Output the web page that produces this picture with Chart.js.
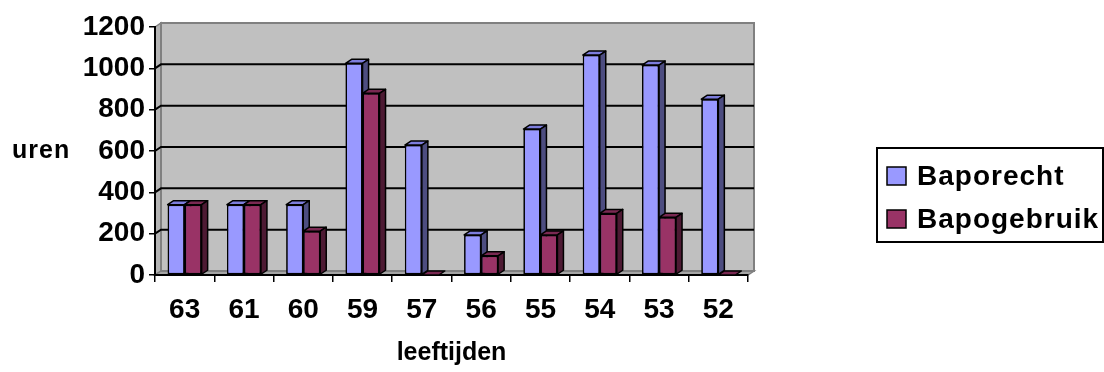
<!DOCTYPE html>
<html>
<head>
<meta charset="utf-8">
<script src="https://cdn.jsdelivr.net/npm/chart.js@4/dist/chart.umd.min.js"></script>
<style>
  html, body { margin: 0; padding: 0; background: #fff; }
  #wrap { width: 1104px; height: 372px; position: relative; }
</style>
</head>
<body>
<div id="wrap"><canvas id="c"></canvas></div>
<script>
// Ages and hours per age
const categories = ['63', '61', '60', '59', '57', '56', '55', '54', '53', '52'];
const baporecht = [340, 340, 340, 1024, 629, 194, 706, 1064, 1016, 851];
const bapogebruik = [340, 340, 212, 879, 0, 93, 194, 298, 279, 0];
const yTicks = [0, 200, 400, 600, 800, 1000, 1200];

const seriesNames = ['Baporecht', 'Bapogebruik'];
const frontColors = ['#9999ff', '#993366'];
const topColors = ['#7d7ddc', '#7a2952'];
const sideColors = ['#4d4d80', '#4d1a33'];

const DX = 6, DY = -4;   // depth of the 3D extrusion
const FONT = 'Liberation Sans, Arial, sans-serif';

function poly(ctx, pts) {
  ctx.beginPath();
  ctx.moveTo(pts[0][0], pts[0][1]);
  for (let i = 1; i < pts.length; i++) ctx.lineTo(pts[i][0], pts[i][1]);
  ctx.closePath();
}

// Walls, floor and gridlines behind the bars
const walls = {
  id: 'walls',
  beforeDraw(chart) {
    const { ctx, chartArea: a, scales: { y } } = chart;
    ctx.save();
    ctx.fillStyle = '#fff';
    ctx.fillRect(0, 0, chart.width, chart.height);
    ctx.lineJoin = 'miter';
    // left side wall
    poly(ctx, [[a.left, a.top], [a.left + DX, a.top + DY], [a.left + DX, a.bottom + DY], [a.left, a.bottom]]);
    ctx.fillStyle = '#b4b4b4'; ctx.fill();
    ctx.strokeStyle = '#808080'; ctx.lineWidth = 1.5; ctx.stroke();
    // floor
    poly(ctx, [[a.left, a.bottom], [a.left + DX, a.bottom + DY], [a.right + DX, a.bottom + DY], [a.right, a.bottom]]);
    ctx.fillStyle = '#a6a6a6'; ctx.fill();
    ctx.strokeStyle = '#808080'; ctx.stroke();
    // back wall
    ctx.fillStyle = '#c0c0c0';
    ctx.fillRect(a.left + DX, a.top + DY, a.right - a.left, a.bottom - a.top);
    ctx.strokeStyle = '#808080'; ctx.lineWidth = 2;
    ctx.strokeRect(a.left + DX, a.top + DY, a.right - a.left, a.bottom - a.top);
    // gridlines on side and back wall
    ctx.strokeStyle = '#000'; ctx.lineWidth = 2;
    y.ticks.forEach(t => {
      if (t.value <= y.min || t.value >= y.max) return;
      const py = y.getPixelForValue(t.value);
      ctx.beginPath();
      ctx.moveTo(a.left, py);
      ctx.lineTo(a.left + DX, py + DY);
      ctx.lineTo(a.right + DX, py + DY);
      ctx.stroke();
    });
    ctx.restore();
  }
};

// Top and side faces of every bar, painted cluster by cluster
const extrude = {
  id: 'extrude',
  afterDatasetsDraw(chart) {
    const { ctx } = chart;
    const metas = chart.data.datasets.map((d, i) => chart.getDatasetMeta(i));
    ctx.save();
    ctx.lineJoin = 'round';
    for (let i = 0; i < categories.length; i++) {
      metas.forEach((meta, d) => {
        const el = meta.data[i];
        el.draw(ctx, chart.chartArea);
        const { x, y, base, width } = el.getProps(['x', 'y', 'base', 'width'], true);
        const l = x - width / 2, r = x + width / 2;
        ctx.strokeStyle = '#000';
        ctx.lineWidth = 1.5;
        poly(ctx, [[l, y], [l + DX, y + DY], [r + DX, y + DY], [r, y]]);
        ctx.fillStyle = topColors[d]; ctx.fill(); ctx.stroke();
        if (base - y > 0.5) {
          poly(ctx, [[r, y], [r + DX, y + DY], [r + DX, base + DY], [r, base]]);
          ctx.fillStyle = sideColors[d]; ctx.fill(); ctx.stroke();
        }
      });
    }
    ctx.restore();
  }
};

// Axis caption for the value axis and the boxed legend
const extras = {
  id: 'extras',
  afterDraw(chart) {
    const { ctx } = chart;
    ctx.save();
    ctx.fillStyle = '#000';
    ctx.font = 'bold 25px ' + FONT;
    ctx.textBaseline = 'alphabetic';
    ctx.textAlign = 'left';
    ctx.letterSpacing = '1px';
    ctx.fillText('uren', 12, 158);

    ctx.strokeStyle = '#000';
    ctx.lineWidth = 2;
    ctx.strokeRect(877, 148, 226, 94);
    ctx.font = 'bold 28px ' + FONT;
    const rows = [185, 228];
    chart.data.datasets.forEach((ds, d) => {
      const base = rows[d];
      ctx.fillStyle = ds.backgroundColor;
      ctx.fillRect(887, base - 18, 19, 18);
      ctx.lineWidth = 1.5;
      ctx.strokeRect(887, base - 18, 19, 18);
      ctx.fillStyle = '#000';
      ctx.fillText(ds.label, 917, base);
    });
    ctx.restore();
  }
};

Chart.defaults.font.family = FONT;
Chart.defaults.color = '#000';

new Chart(document.getElementById('c'), {
  type: 'bar',
  data: {
    labels: categories,
    datasets: [
      { label: seriesNames[0], data: baporecht, backgroundColor: frontColors[0] },
      { label: seriesNames[1], data: bapogebruik, backgroundColor: frontColors[1] }
    ]
  },
  options: {
    responsive: true,
    maintainAspectRatio: false,
    animation: false,
    events: [],
    layout: { padding: { left: 0, top: 27, right: 356, bottom: 0 } },
    datasets: {
      bar: {
        categoryPercentage: 0.573,
        barPercentage: 1,
        borderColor: '#000',
        borderWidth: 1.5,
        borderSkipped: false
      }
    },
    plugins: {
      legend: { display: false },
      tooltip: { enabled: false }
    },
    scales: {
      x: {
        offset: true,
        grid: { offset: true, drawOnChartArea: false, drawTicks: true, tickLength: 7, color: '#000', lineWidth: 1.5 },
        border: { display: true, color: '#000', width: 2 },
        ticks: { font: { size: 28, weight: 'bold' }, padding: 11, maxRotation: 0 },
        title: { display: true, text: 'leeftijden', font: { size: 25, weight: 'bold' }, padding: { top: 0, bottom: 4 } },
        afterFit(scale) { scale.height = 97; }
      },
      y: {
        min: 0,
        max: 1200,
        afterBuildTicks(scale) { scale.ticks = yTicks.map(v => ({ value: v })); },
        grid: { drawOnChartArea: false, drawTicks: true, tickLength: 6, color: '#000', lineWidth: 1.5 },
        border: { display: true, color: '#000', width: 2 },
        ticks: { font: { size: 28, weight: 'bold' }, padding: 4, callback: v => String(v) },
        afterFit(scale) { scale.width = 155; }
      }
    }
  },
  plugins: [walls, extrude, extras]
});
</script>
</body>
</html>
